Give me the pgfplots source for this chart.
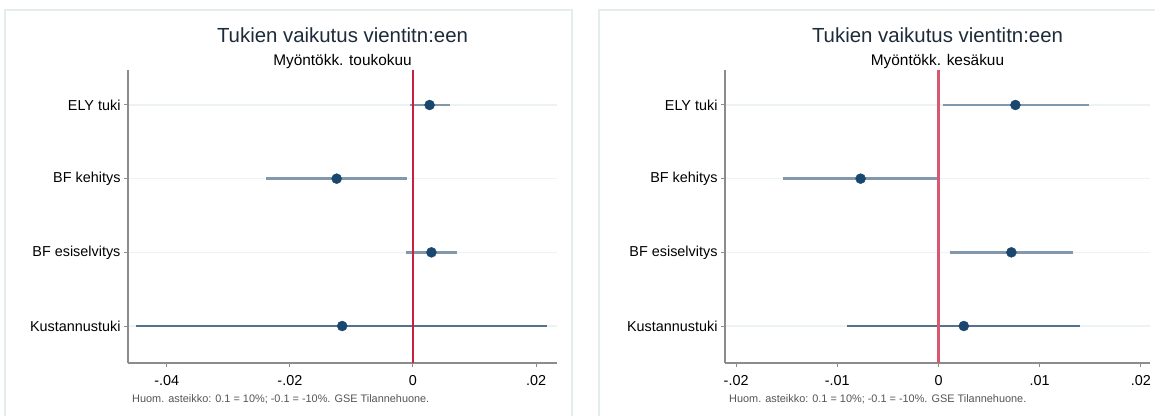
\documentclass[border=0pt]{standalone}
\usepackage{pgfplots}
\pgfplotsset{compat=1.18}
\usepackage{fontspec}
\setmainfont{Liberation Sans}

\definecolor{navy}{HTML}{1A476F}
\definecolor{cilight}{HTML}{8298AD}
\definecolor{cidark}{HTML}{54728F}
\definecolor{gridcol}{HTML}{EDF2F2}
\definecolor{axcol}{HTML}{8C8C8C}
\definecolor{framecol}{HTML}{E4ECEE}
\definecolor{titlecol}{HTML}{1E2B3A}
\definecolor{notecol}{HTML}{555555}
\definecolor{zeroleft}{HTML}{C8203F}
\definecolor{zeroright}{HTML}{D95871}

\pgfplotsset{
  coefplot/.style={
    anchor=south west, scale only axis, height=293pt,
    y dir=reverse, ymin=0.525, ymax=4.502,
    ytick={1,2,3,4},
    yticklabels={ELY tuki, BF kehitys, BF esiselvitys, Kustannustuki},
    scaled x ticks=false,
    axis x line*=bottom, axis y line*=left,
    axis line style={-, axcol, line width=1.2pt},
    tick style={axcol, line width=1pt},
    tick align=outside, major tick length=4pt,
    ymajorgrids, major grid style={gridcol, line width=1.6pt},
    ticklabel style={font=\fontsize{14.4}{16}\selectfont, black},
    xticklabel style={yshift=-5pt},
    clip=false,
  },
  ci/.style={color=cilight, line width=2.6pt, no marks},
  cik/.style={color=cidark, line width=2.6pt, no marks},
  est/.style={only marks, mark=*, mark size=5pt, color=navy, mark options={fill=navy, draw=navy}},
}

\begin{document}
\begin{tikzpicture}[x=1pt,y=1pt]
\useasboundingbox (0,0) rectangle (1155,415);
\fill[white] (0,0) rectangle (1155,415);
\draw[framecol, line width=1.2pt] (5,-10) rectangle (572,405);
\draw[framecol, line width=1.2pt] (599,-10) rectangle (1175,405);

% vasen: toukokuu
\begin{axis}[coefplot, at={(128pt,52pt)}, width=429pt,
  xmin=-0.0463, xmax=0.0234,
  xtick={-0.04,-0.02,0,0.02}, xticklabels={-.04,-.02,0,.02}]
\addplot[ci] coordinates {(-0.0005,1) (0.0060,1)};
\addplot[ci] coordinates {(-0.0239,2) (-0.0010,2)};
\addplot[ci] coordinates {(-0.0011,3) (0.0071,3)};
\addplot[cik] coordinates {(-0.0450,4) (0.0218,4)};
\draw[zeroleft, line width=1.3pt] (axis cs:0,0.525) -- (axis cs:0,4.502);
\addplot[est] coordinates {(0.0027,1) (-0.0124,2) (0.0030,3) (-0.0115,4)};
\end{axis}

% oikea: kesakuu
\begin{axis}[coefplot, at={(725pt,52pt)}, width=425pt,
  xmin=-0.0211, xmax=0.0209,
  xtick={-0.02,-0.01,0,0.01,0.02}, xticklabels={-.02,-.01,0,.01,.02}]
\addplot[ci] coordinates {(0.0004,1) (0.0149,1)};
\addplot[ci] coordinates {(-0.0154,2) (0.0000,2)};
\addplot[ci] coordinates {(0.0011,3) (0.0133,3)};
\addplot[cik] coordinates {(-0.0090,4) (0.0140,4)};
\draw[zeroright, line width=2.4pt] (axis cs:0,0.525) -- (axis cs:0,4.502);
\addplot[est] coordinates {(0.0076,1) (-0.0077,2) (0.0072,3) (0.0025,4)};
\end{axis}

\foreach \cx/\sub in {342.5/{Myöntökk. toukokuu}, 937.5/{Myöntökk. kesäkuu}}{
  \node[anchor=base, inner sep=0, text=titlecol, font=\fontsize{20.4}{22}\selectfont] at (\cx,372.5) {Tukien vaikutus vientitn:een};
  \node[anchor=base, inner sep=0, text=black, font=\fontsize{15.4}{17}\selectfont] at (\cx,349.5) {\sub};
}
\node[anchor=base west, inner sep=0, text=notecol, font=\fontsize{10.9}{12}\selectfont] at (132,13) {Huom. asteikko: 0.1 = 10\%; -0.1 = -10\%. GSE Tilannehuone.};
\node[anchor=base west, inner sep=0, text=notecol, font=\fontsize{10.9}{12}\selectfont] at (729,13) {Huom. asteikko: 0.1 = 10\%; -0.1 = -10\%. GSE Tilannehuone.};
\end{tikzpicture}
\end{document}
